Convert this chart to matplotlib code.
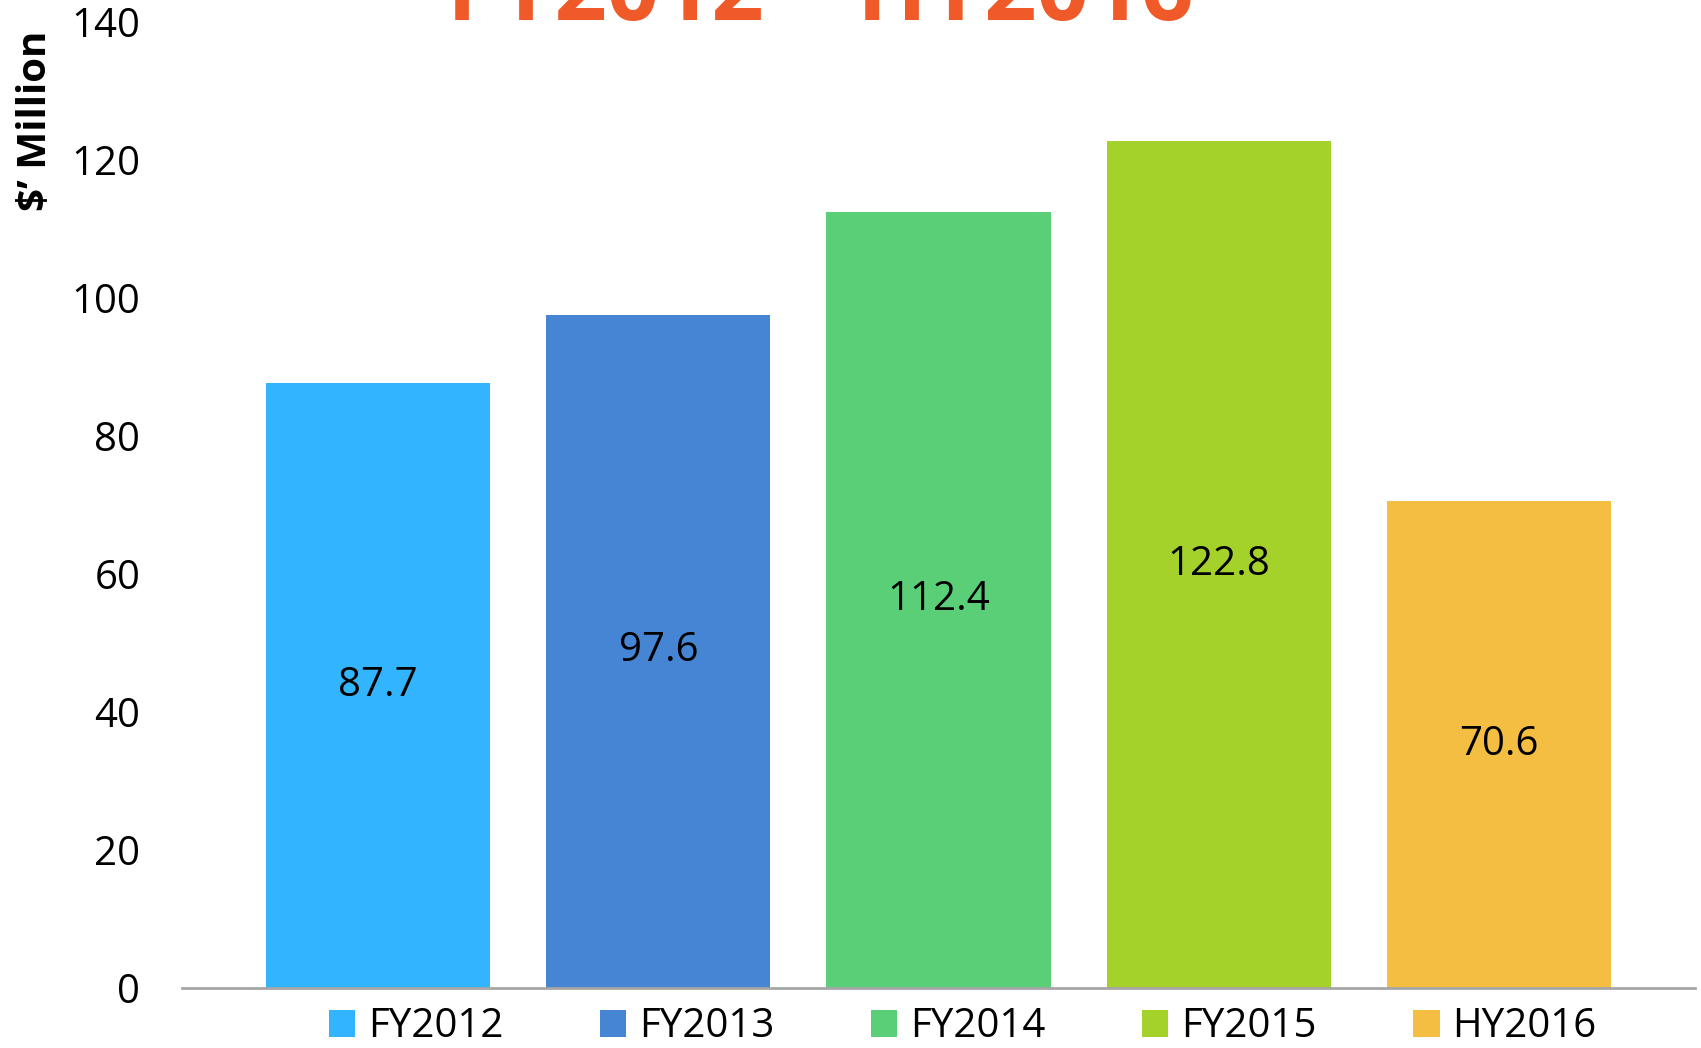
import matplotlib
matplotlib.use('Agg')
import matplotlib.pyplot as plt
from matplotlib.patches import Patch

# данные
periods = ['FY2012', 'FY2013', 'FY2014', 'FY2015', 'HY2016']
revenue = [87.7, 97.6, 112.4, 122.8, 70.6]
colors = ['#32B5FE', '#4585D3', '#5BCF78', '#A5D12B', '#F3BE42']
y_ticks = [0, 20, 40, 60, 80, 100, 120, 140]
title = 'FY2012 – HY2016'

plt.rcParams['font.family'] = ['Open Sans', 'DejaVu Sans']

fig = plt.figure(figsize=(17.01, 10.48), dpi=100)
ax = fig.add_axes([0.107, 0.0573, 0.8895, 0.9217])

x = list(range(len(periods)))
bars = ax.bar(x, revenue, width=0.8, color=colors)
for xi, v in zip(x, revenue):
    ax.text(xi, v / 2, f'{v:.1f}', ha='center', va='center', fontsize=29, color='black')

ax.set_xlim(-0.7, 4.7)
ax.set_ylim(0, 140)
ax.set_yticks(y_ticks)
ax.set_xticks([])
ax.tick_params(axis='y', length=0, labelsize=29, pad=30)
for s in ['top', 'right', 'left']:
    ax.spines[s].set_visible(False)
ax.spines['bottom'].set_color('#A6A6A6')
ax.spines['bottom'].set_linewidth(2)

fig.text(0.021, 0.885, "$’ Million", rotation=90, ha='center', va='center',
         fontsize=29, fontweight='bold')

fig.text(0.482, 1.0 - 20 / 1048, title, ha='center', va='baseline',
         fontsize=66, fontweight='bold', color='#F05A28')

handles = [Patch(facecolor=c, label=p) for c, p in zip(colors, periods)]
fig.legend(handles=handles, loc='center', bbox_to_anchor=(0.566, 0.02), ncol=5,
           frameon=False, fontsize=29, handlelength=0.65, handleheight=0.65,
           handletextpad=0.32, columnspacing=2.4)

fig.savefig('out.png', dpi=100)
